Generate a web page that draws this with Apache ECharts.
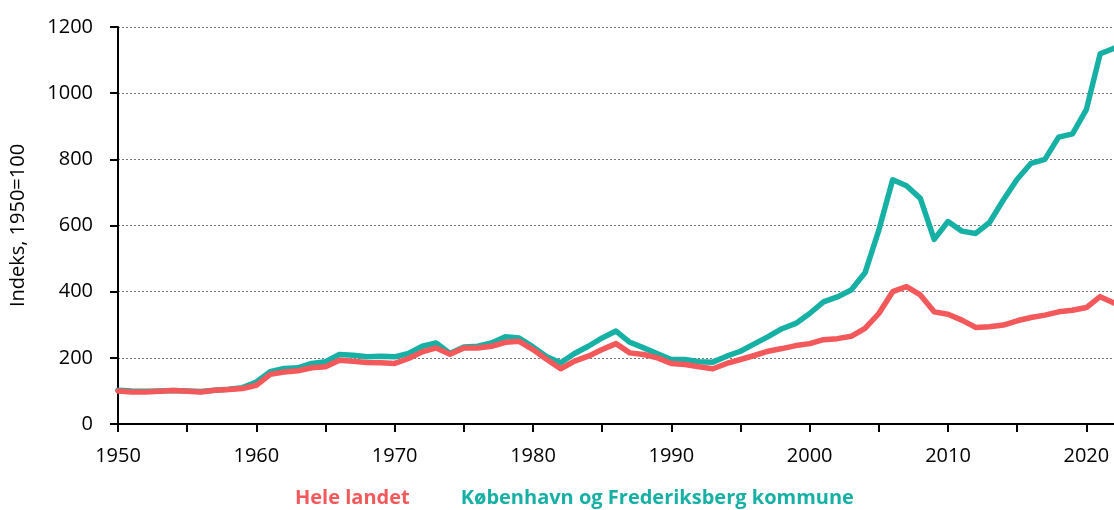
<!DOCTYPE html>
<html><head><meta charset="utf-8">
<script src="https://cdn.jsdelivr.net/npm/echarts@6/dist/echarts.min.js"></script>
<style>html,body{margin:0;padding:0;background:#fff}#c{width:1114px;height:510px}</style>
</head><body><div id="c"></div>
<script>
const years = [];
for (let y = 1950; y <= 2022; y++) years.push(y);
const heleLandet = [
 100, 97, 97, 99, 101, 99, 97, 102, 104, 107,
 117, 150, 157, 161, 170, 173, 193, 190, 186, 185,
 183, 198, 218, 230, 211, 230, 230, 235, 247, 250,
 225, 195, 167, 190, 205, 225, 243, 215, 210, 200,
 183, 180, 173, 167, 183, 195, 207, 220, 228, 237,
 243, 255, 258, 265, 289, 334, 400, 415, 390, 339,
 332, 314, 292, 294, 299, 312, 322, 329, 339, 344,
 352, 385, 366
];
const kbhFrb = [
 102, 100, 99, 100, 101, 100, 98, 102, 105, 110,
 127, 158, 168, 170, 183, 188, 210, 208, 203, 205,
 203, 213, 235, 245, 213, 233, 235, 245, 264, 260,
 233, 203, 185, 213, 235, 260, 281, 247, 230, 212,
 195, 195, 188, 187, 205, 220, 242, 264, 288, 304,
 334, 369, 384, 405, 457, 586, 738, 720, 682, 558,
 612, 583, 576, 609, 677, 740, 788, 800, 867, 877,
 950, 1119, 1136
];
const seriesNames = ['Hele landet', 'København og Frederiksberg kommune'];
const colors = ['#f3585a', '#17b0a4'];
const yTicks = [0, 200, 400, 600, 800, 1000, 1200];

const chart = echarts.init(document.getElementById('c'));
const font = '"Open Sans", "Noto Sans", sans-serif';
chart.setOption({
  animation: false,
  grid: {left: 118, right: 0, top: 27, bottom: 86, containLabel: false},
  legend: {
    left: 285, top: 483, icon: 'none', itemWidth: 0, itemHeight: 0, itemGap: 46,
    textStyle: {fontFamily: font, fontWeight: 'bold', fontSize: 20},
    data: seriesNames.map((n, i) => ({name: n, textStyle: {color: colors[i]}})),
    selectedMode: false
  },
  xAxis: {
    type: 'value', min: 1950, max: 2022, interval: 5,
    axisLine: {lineStyle: {color: '#000', width: 2}},
    axisTick: {show: true, length: 8, lineStyle: {color: '#000', width: 2}},
    axisLabel: {
      color: '#000', fontFamily: font, fontSize: 20, margin: 22, showMaxLabel: false,
      formatter: v => (v % 10 === 0 ? String(v) : '')
    },
    splitLine: {show: false}
  },
  yAxis: {
    type: 'value', min: yTicks[0], max: yTicks[yTicks.length - 1], interval: 200,
    name: 'Indeks, 1950=100', nameLocation: 'middle', nameGap: 90,
    nameTextStyle: {color: '#000', fontFamily: font, fontSize: 20},
    axisLine: {show: true, lineStyle: {color: '#000', width: 2}},
    axisTick: {show: true, length: 8, lineStyle: {color: '#000', width: 2}},
    axisLabel: {color: '#000', fontFamily: font, fontSize: 20, margin: 25,
      formatter: v => String(v)},
    splitLine: {show: true, lineStyle: {color: '#777', type: [2, 2], width: 1}}
  },
  series: [
    {name: seriesNames[0], type: 'line', z: 3, symbol: 'none',
     data: years.map((y, i) => [y, heleLandet[i]]),
     lineStyle: {color: colors[0], width: 5.5, join: 'round', cap: 'round'},
     itemStyle: {color: colors[0]}},
    {name: seriesNames[1], type: 'line', z: 2, symbol: 'none',
     data: years.map((y, i) => [y, kbhFrb[i]]),
     lineStyle: {color: colors[1], width: 5.5, join: 'round', cap: 'round'},
     itemStyle: {color: colors[1]}}
  ]
});
</script></body></html>
